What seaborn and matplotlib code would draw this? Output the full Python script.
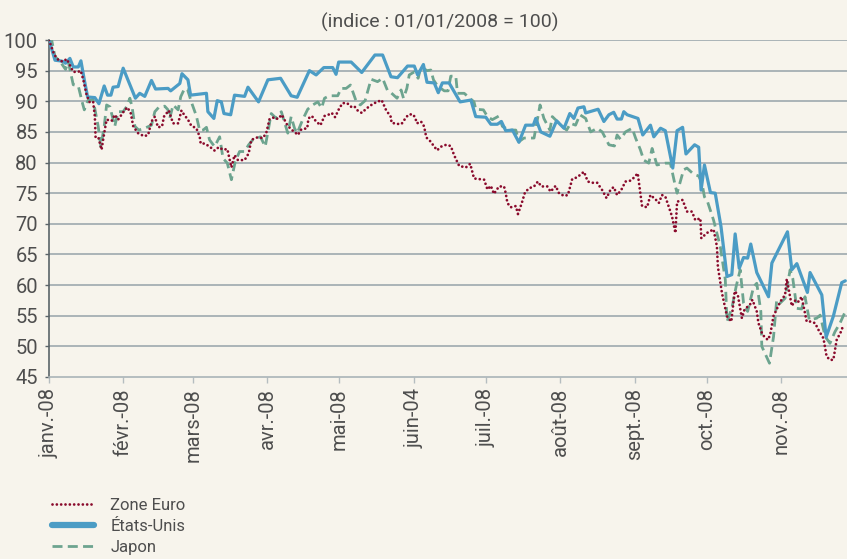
import numpy as np
import pandas as pd
import matplotlib
matplotlib.use("Agg")
import matplotlib.pyplot as plt
import seaborn as sns
from matplotlib.lines import Line2D

# ---- data (day offset from 01/01/2008, index value) ----
euro_days = [0, 2.2, 4.2, 5.9, 7.4, 8.3, 10.1, 12.2, 13.2, 14.3, 15.7, 17.0, 18.4, 19.1, 19.4, 20.5, 21.9, 23.0, 24.0,
             26.1, 27.4, 28.8, 30.2, 31.6, 32.7, 34.1, 35.1, 37.1, 39.6, 41.3, 42.7, 44.1, 45.4, 47.1, 47.9, 49.9,
             51.7, 53.8, 55.2, 56.3, 57.9, 59.3, 61.4, 62.8, 63.2, 64.9, 66.9, 69.0, 70.7, 72.5, 74.3, 76.0, 77.3,
             78.7, 81.5, 83.2, 84.3, 86.8, 89.1, 90.5, 91.9, 94.0, 95.3, 97.0, 99.3, 100.9, 102.3, 103.7, 105.1,
             107.6, 108.1, 109.5, 111.3, 113.1, 114.8, 116.4, 117.8, 119.2, 121.0, 122.4, 124.2, 125.9, 127.2,
             128.6, 130.3, 131.7, 133.5, 135.6, 138.6, 140.4, 142.5, 142.7, 145.0, 146.9, 148.3, 149.7, 151.5,
             152.5, 153.3, 155.0, 156.3, 157.2, 158.8, 161.7, 163.4, 165.5, 167.4, 168.8, 170.9, 173.7, 175.5,
             177.1, 179.2, 181.3, 182.7, 184.1, 185.4, 187.5, 189.6, 190.3, 191.0, 192.4, 194.5, 195.4, 197.0,
             198.3, 200.0, 202.1, 203.7, 205.1, 207.6, 209.0, 211.1, 212.5, 214.6, 216.2, 218.0, 220.1, 222.9,
             224.5, 226.3, 228.4, 230.5, 232.3, 234.0, 235.3, 236.7, 238.4, 240.2, 242.3, 243.9, 245.3, 246.4,
             247.1, 249.2, 250.6, 252.7, 254.1, 255.4, 256.8, 258.2, 259.6, 261.0, 261.7, 264.0, 265.8, 267.9,
             269.3, 271.4, 271.8, 274.1, 276.9, 278.3, 278.7, 280.4, 282.5, 284.3, 285.7, 287.0, 288.7, 289.8,
             292.2, 293.1, 294.9, 295.6, 297.3, 299.5, 300.5, 301.9, 302.8, 304.7, 306.7, 307.4, 309.5, 311.1,
             312.3, 313.6, 315.7, 317.1, 319.2, 320.6, 322.7, 324.0, 325.4, 326.8, 328.2, 330.0, 331.0]
euro_vals = [100, 97.6, 96.6, 96.5, 96.9, 96.2, 94.8, 94.8, 95.0, 93.5, 91.0, 89.8, 89.9, 87.5, 84.2, 84.2, 82.1, 84.8,
             87.0, 86.8, 87.8, 87.0, 87.8, 88.6, 89.0, 88.0, 85.9, 84.8, 84.3, 84.5, 86.7, 87.5, 85.75, 85.9, 87.5,
             88.5, 86.4, 86.4, 88.5, 87.8, 87.0, 86.0, 85.6, 84.2, 83.1, 83.1, 82.6, 81.95, 82.5, 82.1, 82.2, 79.2,
             81.2, 80.4, 80.4, 81.5, 83.7, 84.1, 84.0, 84.8, 87.1, 87.4, 87.1, 87.8, 86.1, 85.4, 85.0, 84.5, 85.4,
             85.6, 87.2, 87.6, 86.7, 86.1, 87.6, 87.8, 88.1, 87.4, 88.9, 89.7, 89.7, 89.1, 89.2, 88.5, 88.1, 88.6,
             89.2, 89.7, 90.2, 88.6, 87.4, 86.5, 86.3, 86.3, 87.1, 87.8, 87.9, 87.4, 86.4, 86.7, 85.9, 84.1, 83.5,
             82.0, 82.6, 82.9, 82.7, 81.2, 79.45, 79.2, 79.8, 77.4, 77.3, 77.2, 75.6, 76.2, 74.9, 76.1, 76.1, 75.0,
             73.4, 72.7, 72.9, 71.6, 73.4, 75.1, 75.8, 76.1, 76.9, 76.1, 76.1, 75.25, 76.2, 75.0, 74.55, 74.7, 77.3,
             77.6, 78.5, 76.9, 76.7, 76.7, 75.5, 74.2, 75.6, 76.0, 74.7, 75.5, 76.9, 77.05, 77.6, 78.25, 75.0, 72.9,
             72.7, 74.7, 74.0, 73.4, 74.7, 74.45, 72.8, 71.2, 68.5, 73.6, 73.9, 72.0, 72.0, 70.6, 70.9, 67.65, 68.5,
             69.1, 66.3, 63.0, 58.7, 54.9, 54.05, 59.0, 58.4, 54.6, 56.0, 56.9, 57.6, 55.7, 53.8, 51.9, 51.05, 51.9,
             55.0, 55.7, 57.3, 58.4, 61.0, 56.6, 57.6, 57.3, 58.1, 54.05, 54.05, 53.8, 52.7, 51.3, 48.35, 47.8,
             47.8, 51.05, 52.4, 53.5]

us_days = [0, 2.5, 4.6, 5.9, 6.9, 8.7, 10.1, 12.2, 13.3, 14.7, 16.1, 19.1, 20.8, 23.0, 24.4, 25.8, 26.7, 28.8, 30.9,
           36.0, 37.8, 39.9, 42.7, 44.4, 49.6, 50.7, 54.5, 55.4, 57.9, 59.0, 65.6, 66.2, 68.7, 70.1, 71.8, 72.9,
           75.7, 77.3, 81.5, 82.9, 87.3, 91.2, 96.5, 100.9, 103.4, 108.5, 111.3, 114.5, 118.2, 119.6, 120.7, 125.9,
           130.3, 135.8, 139.0, 142.5, 145.2, 149.4, 152.2, 153.6, 156.0, 157.5, 160.5, 162.2, 163.9, 166.7, 168.8,
           171.3, 175.8, 177.8, 182.0, 184.1, 186.8, 188.5, 190.3, 193.1, 195.8, 198.6, 201.8, 202.8, 204.9, 208.7,
           211.5, 214.6, 217.0, 218.7, 220.4, 222.9, 223.6, 228.8, 231.2, 233.3, 235.3, 236.7, 238.5, 239.5, 240.9,
           245.4, 247.4, 250.6, 252.0, 254.8, 256.8, 259.9, 261.7, 264.0, 265.4, 269.0, 270.7, 271.7, 273.1, 275.6,
           277.6, 280.0, 282.5, 284.5, 285.9, 287.6, 289.4, 291.1, 292.4, 294.9, 299.8, 301.2, 307.7, 309.5, 311.6,
           316.0, 317.1, 322.0, 323.8, 326.8, 330.3, 331.8]
us_vals = [100, 96.7, 96.6, 96.5, 96.2, 97.0, 95.6, 95.6, 96.6, 93.5, 90.7, 90.6, 89.6, 92.5, 91.0, 91.0, 92.3, 92.4,
           95.4, 90.5, 91.3, 90.8, 93.4, 92.0, 92.1, 91.7, 92.9, 94.5, 93.5, 91.0, 91.3, 88.3, 87.2, 90.1, 89.9, 88.0,
           87.8, 91.0, 90.8, 92.3, 89.9, 93.5, 93.75, 90.9, 90.65, 95.0, 94.3, 95.5, 95.5, 94.4, 96.4, 96.4, 94.7,
           97.55, 97.55, 94.0, 93.85, 95.75, 95.75, 94.3, 96.0, 93.1, 93.0, 91.4, 93.0, 93.0, 91.6, 89.9, 90.2, 87.5,
           87.4, 86.25, 86.25, 86.7, 85.2, 85.3, 83.3, 86.1, 86.1, 87.2, 85.0, 84.3, 86.8, 85.6, 88.0, 87.2, 88.9,
           89.1, 88.1, 88.7, 86.7, 87.8, 88.2, 87.1, 87.1, 88.3, 87.8, 87.2, 84.5, 86.1, 84.2, 85.6, 85.2, 79.1,
           85.2, 85.75, 81.4, 82.9, 82.5, 75.5, 79.6, 75.1, 75.0, 69.55, 61.4, 61.7, 68.35, 62.75, 64.5, 64.4, 66.7,
           62.05, 58.1, 63.6, 68.7, 62.5, 63.5, 58.8, 62.05, 58.4, 51.5, 54.9, 60.4, 60.7]

jp_days = [0, 1, 2.5, 4.6, 6.9, 8.0, 9.4, 10.1, 12.2, 13.8, 14.7, 16.3, 18.4, 20.5, 21.6, 23.0, 24.0, 25.4, 27.4,
           28.8, 30.9, 32.3, 33.7, 34.6, 35.8, 37.4, 39.9, 42.7, 44.1, 45.7, 48.2, 49.6, 50.3, 51.7, 53.8, 54.9,
           56.5, 57.7, 59.3, 61.4, 62.8, 64.2, 65.6, 66.9, 69.0, 71.1, 72.5, 74.3, 76.0, 77.6, 79.4, 81.5, 83.2,
           84.9, 88.1, 90.1, 92.6, 94.7, 96.8, 99.5, 100.9, 102.3, 103.4, 105.7, 107.8, 109.9, 112.0, 113.6, 114.8,
           116.8, 120.3, 121.7, 123.8, 125.6, 127.9, 129.7, 131.7, 134.2, 136.9, 139.0, 141.1, 142.5, 145.0, 146.7,
           147.7, 149.1, 150.1, 152.2, 153.8, 155.0, 157.5, 159.1, 160.2, 161.9, 164.7, 166.3, 167.4, 169.5, 170.2,
           173.0, 177.1, 177.8, 181.0, 182.7, 184.7, 187.5, 188.9, 191.7, 194.5, 195.8, 197.9, 202.1, 204.6, 206.2,
           208.7, 209.7, 211.8, 213.8, 215.7, 217.3, 219.4, 221.2, 223.6, 225.7, 228.4, 230.5, 233.3, 235.6, 236.7,
           238.1, 240.2, 243.0, 244.4, 246.4, 247.8, 249.9, 251.3, 253.3, 256.8, 258.9, 261.0, 261.7, 264.4, 265.8,
           268.6, 270.7, 272.1, 273.1, 274.4, 276.9, 279.7, 281.8, 282.5, 284.5, 286.3, 288.0, 289.4, 291.1, 293.6,
           294.9, 296.6, 297.0, 300.2, 301.9, 303.2, 304.6, 306.7, 308.8, 309.9, 311.6, 313.6, 315.0, 316.8, 319.9,
           321.3, 323.4, 325.4, 327.5, 329.6, 331.8]
jp_vals = [100, 100.2, 97.3, 96.5, 95.2, 96.5, 94.0, 92.7, 92.5, 89.9, 88.6, 90.2, 90.2, 85.9, 82.6, 85.9, 89.4, 89.1,
           85.9, 88.3, 88.3, 89.1, 90.5, 89.1, 85.9, 85.3, 85.6, 86.1, 88.3, 89.0, 89.2, 88.6, 87.2, 89.4, 88.6,
           90.75, 92.1, 91.95, 89.9, 87.6, 85.2, 85.3, 85.75, 83.7, 82.6, 84.2, 80.7, 79.9, 77.2, 80.15, 81.8, 81.8,
           82.9, 83.7, 84.2, 82.6, 88.0, 87.2, 88.3, 84.8, 87.5, 85.6, 84.8, 87.0, 88.7, 89.4, 89.9, 88.9, 90.5, 90.9,
           90.9, 92.1, 92.1, 92.65, 90.1, 89.4, 90.1, 93.6, 93.2, 93.75, 91.7, 91.4, 90.5, 91.85, 90.5, 92.1, 94.3,
           94.8, 93.75, 95.65, 95.0, 95.1, 93.5, 92.5, 91.7, 91.7, 94.1, 94.1, 91.3, 91.3, 89.9, 88.7, 88.6, 87.5,
           87.0, 87.6, 85.9, 85.3, 85.3, 83.4, 84.0, 84.0, 89.4, 87.2, 85.3, 87.5, 86.7, 85.9, 85.3, 86.4, 86.1, 87.8,
           87.2, 85.0, 85.6, 85.0, 82.9, 82.7, 84.5, 83.8, 85.0, 85.6, 84.0, 82.1, 80.4, 79.9, 82.3, 79.6, 79.9, 79.9,
           76.1, 75.0, 78.8, 79.1, 78.1, 77.8, 76.6, 74.4, 73.6, 70.6, 66.3, 60.85, 54.05, 56.2, 59.75, 62.5, 57.05,
           55.7, 59.75, 60.3, 55.7, 50.0, 47.25, 51.6, 57.6, 57.05, 57.85, 62.5, 61.1, 56.2, 56.1, 58.1, 54.3, 54.6,
           55.1, 51.6, 50.5, 52.4, 53.8, 55.7]

month_days = [0, 31, 60, 91, 121, 152, 182, 213, 244, 274, 305]
month_labels = ["janv.-08", "févr.-08", "mars-08", "avr.-08", "mai-08", "juin-04",
                "juil.-08", "août-08", "sept.-08", "oct.-08", "nov.-08"]
y_ticks = list(range(45, 101, 5))
series_names = ["Zone Euro", "États-Unis", "Japon"]
title = "(indice : 01/01/2008 = 100)"

# ---- style ----
BG = "#f7f4ec"
TXT = "#4e4e4e"
sns.set_theme(style="white")
plt.rcParams["font.family"] = ["Roboto", "DejaVu Sans"]
plt.rcParams["text.color"] = TXT

fig = plt.figure(figsize=(8.47, 5.59), dpi=100, facecolor=BG)
ax = fig.add_axes([49 / 847, 1 - 377 / 559, 1 - 49 / 847, (377 - 40) / 559])
ax.set_facecolor(BG)

colors = {"Zone Euro": "#8a0a2c", "États-Unis": "#4b9cc5", "Japon": "#6da48f"}
dot_style = (0, (0.01, 1.55))
dash_style = (0, (3.6, 1.9))

df_eu = pd.DataFrame({"day": euro_days, "val": euro_vals})
df_us = pd.DataFrame({"day": us_days, "val": us_vals})
df_jp = pd.DataFrame({"day": jp_days, "val": jp_vals})

# gridlines
for y in y_ticks[1:]:
    ax.axhline(y, color="#9ea9ae", lw=1.2, zorder=0)

sns.lineplot(data=df_us, x="day", y="val", ax=ax, color=colors["États-Unis"], lw=2.3,
             sort=False, estimator=None, zorder=3)
sns.lineplot(data=df_jp, x="day", y="val", ax=ax, color=colors["Japon"], lw=2.0,
             sort=False, estimator=None, zorder=2, linestyle=dash_style)
sns.lineplot(data=df_eu, x="day", y="val", ax=ax, color=colors["Zone Euro"], lw=2.0,
             sort=False, estimator=None, zorder=4, linestyle=dot_style,
             dash_capstyle="round")

ax.set_xlim(0, 332.5)
ax.set_ylim(45, 100)
ax.set_yticks(y_ticks)
ax.set_yticklabels([str(v) for v in y_ticks], fontsize=14.5, color=TXT)
ax.set_xticks(month_days)
ax.set_xticklabels(month_labels, rotation=90, fontsize=14.5, color=TXT, va="top", ha="center")
ax.set_xlabel("")
ax.set_ylabel("")
ax.tick_params(axis="y", which="both", left=True, length=3, width=1, color="#5a6469", pad=5)
ax.tick_params(axis="x", which="both", bottom=True, length=4, width=1, color="#b5bdc0", pad=4)

for s in ["top", "right"]:
    ax.spines[s].set_visible(False)
ax.spines["left"].set_color("#5a6469")
ax.spines["left"].set_linewidth(1.2)
ax.spines["bottom"].set_color("#aab4b8")
ax.spines["bottom"].set_linewidth(1.2)

fig.text(440 / 847, 1 - 22 / 559, title, ha="center", va="center", fontsize=14, color=TXT)

handles = [
    Line2D([], [], color=colors["Zone Euro"], lw=2.0, linestyle=dot_style, dash_capstyle="round"),
    Line2D([], [], color=colors["États-Unis"], lw=4.5, solid_capstyle="round"),
    Line2D([], [], color=colors["Japon"], lw=2.0, linestyle=dash_style),
]
fig.legend(handles, series_names, loc="upper left", bbox_to_anchor=(52 / 847, 1 - 498 / 559),
           frameon=False, fontsize=12, handlelength=2.5, handletextpad=1.0,
           labelspacing=0.35, borderaxespad=0, borderpad=0, labelcolor=TXT)

fig.savefig("out.png", dpi=100, facecolor=BG)
